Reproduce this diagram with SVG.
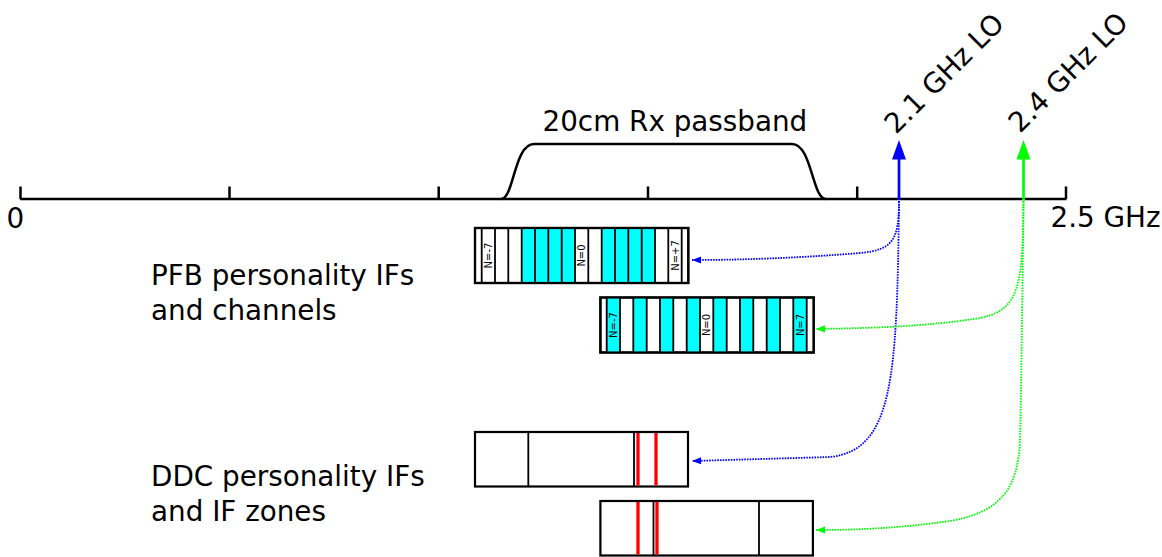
<svg xmlns="http://www.w3.org/2000/svg" width="1162" height="557" viewBox="0 0 1162 557">
<style>
  text { font-family: "DejaVu Sans", "Liberation Sans", sans-serif; fill: #000; }
  .big { font-size: 27.8px; }
  .ch { font-size: 10px; text-anchor: middle; }
  .box { fill: #fff; stroke: #000; stroke-width: 2.2; }
  .div { stroke: #000; stroke-width: 1.8; }
  .cyan { fill: #00ffff; stroke: none; }
  .red { stroke: #ff0000; stroke-width: 3.3; }
  .axis { stroke: #000; stroke-width: 2.5; fill: none; }
  .dotb { fill: none; stroke: #0000ff; stroke-width: 1.8; stroke-dasharray: 1.6 1.1; }
  .dotg { fill: none; stroke: #00ff00; stroke-width: 1.8; stroke-dasharray: 1.6 1.1; }
</style>
<defs>
  <marker id="ab" markerUnits="userSpaceOnUse" viewBox="-10 -5 12 10" markerWidth="12" markerHeight="10" refX="0" refY="0" orient="auto">
    <path d="M-9,-3.6 L0,0 L-9,3.6 Z" fill="#0000ff"/>
  </marker>
  <marker id="ag" markerUnits="userSpaceOnUse" viewBox="-10 -5 12 10" markerWidth="12" markerHeight="10" refX="0" refY="0" orient="auto">
    <path d="M-9,-3.6 L0,0 L-9,3.6 Z" fill="#00ff00"/>
  </marker>
</defs>

<g id="axis">
  <line class="axis" x1="20" y1="199" x2="1066.5" y2="199"/>
  <g class="axis" stroke-width="2">
    <line x1="20.5" y1="186.5" x2="20.5" y2="199"/>
    <line x1="229.5" y1="186.5" x2="229.5" y2="199"/>
    <line x1="438.7" y1="186.5" x2="438.7" y2="199"/>
    <line x1="648" y1="186.5" x2="648" y2="199"/>
    <line x1="857.2" y1="186.5" x2="857.2" y2="199"/>
    <line x1="1066" y1="186.5" x2="1066" y2="199"/>
  </g>
  <text class="big" x="6.5" y="228">0</text>
  <text class="big" x="1050.5" y="227">2.5 GHz</text>
</g>

<g id="passband">
  <path class="axis" d="M501,199 C514,199 514,144 534,144 L792,144 C812,144 812,199 826,199"/>
  <text class="big" x="542.5" y="131">20cm Rx passband</text>
</g>

<g id="lo21">
  <line x1="899" y1="200" x2="899" y2="157" stroke="#0000ff" stroke-width="2.7"/>
  <polygon points="899,140 892,159.5 906,159.5" fill="#0000ff"/>
  <text class="big" transform="translate(896,135) rotate(-45)">2.1 GHz LO</text>
</g>

<g id="lo24">
  <line x1="1023.5" y1="200" x2="1023.5" y2="157" stroke="#00ff00" stroke-width="2.7"/>
  <polygon points="1023.5,140 1016.5,159.5 1030.5,159.5" fill="#00ff00"/>
  <text class="big" transform="translate(1020,134) rotate(-45)">2.4 GHz LO</text>
</g>

<g id="label-pfb">
  <text class="big" x="151" y="284.5">PFB personality IFs</text>
  <text class="big" x="151" y="320">and channels</text>
</g>

<g id="label-ddc">
  <text class="big" x="151" y="486">DDC personality IFs</text>
  <text class="big" x="151" y="521">and IF zones</text>
</g>

<g id="pfb1">
  <rect class="box" x="475" y="228" width="213.3" height="55"/>
  <rect class="cyan" x="521.7" y="228" width="53.3" height="55"/>
  <rect class="cyan" x="601.7" y="228" width="53.3" height="55"/>
  <g class="div">
    <line x1="481.7" y1="228" x2="481.7" y2="283"/>
    <line x1="495.0" y1="228" x2="495.0" y2="283"/>
    <line x1="508.3" y1="228" x2="508.3" y2="283"/>
    <line x1="521.7" y1="228" x2="521.7" y2="283"/>
    <line x1="535.0" y1="228" x2="535.0" y2="283"/>
    <line x1="548.3" y1="228" x2="548.3" y2="283"/>
    <line x1="561.7" y1="228" x2="561.7" y2="283"/>
    <line x1="575.0" y1="228" x2="575.0" y2="283"/>
    <line x1="588.3" y1="228" x2="588.3" y2="283"/>
    <line x1="601.7" y1="228" x2="601.7" y2="283"/>
    <line x1="615.0" y1="228" x2="615.0" y2="283"/>
    <line x1="628.3" y1="228" x2="628.3" y2="283"/>
    <line x1="641.7" y1="228" x2="641.7" y2="283"/>
    <line x1="655.0" y1="228" x2="655.0" y2="283"/>
    <line x1="668.3" y1="228" x2="668.3" y2="283"/>
    <line x1="681.7" y1="228" x2="681.7" y2="283"/>
  </g>
  <rect x="475" y="228" width="213.3" height="55" fill="none" stroke="#000" stroke-width="2.2"/>
  <text class="ch" transform="translate(488.3,255.5) rotate(-90)" dy="0.36em">N=-7</text>
  <text class="ch" transform="translate(581.7,255.5) rotate(-90)" dy="0.36em">N=0</text>
  <text class="ch" transform="translate(675.0,255.5) rotate(-90)" dy="0.36em">N=+7</text>
</g>

<g id="pfb2">
  <rect class="box" x="600.4" y="297.5" width="213.3" height="55"/>
  <rect class="cyan" x="606.7" y="297.5" width="13.33" height="55"/>
  <rect class="cyan" x="633.3" y="297.5" width="13.33" height="55"/>
  <rect class="cyan" x="660.0" y="297.5" width="13.33" height="55"/>
  <rect class="cyan" x="686.7" y="297.5" width="13.33" height="55"/>
  <rect class="cyan" x="713.3" y="297.5" width="13.33" height="55"/>
  <rect class="cyan" x="740.0" y="297.5" width="13.33" height="55"/>
  <rect class="cyan" x="766.7" y="297.5" width="13.33" height="55"/>
  <rect class="cyan" x="793.3" y="297.5" width="13.33" height="55"/>
  <g class="div">
    <line x1="606.7" y1="297.5" x2="606.7" y2="352.5"/>
    <line x1="620.0" y1="297.5" x2="620.0" y2="352.5"/>
    <line x1="633.3" y1="297.5" x2="633.3" y2="352.5"/>
    <line x1="646.7" y1="297.5" x2="646.7" y2="352.5"/>
    <line x1="660.0" y1="297.5" x2="660.0" y2="352.5"/>
    <line x1="673.3" y1="297.5" x2="673.3" y2="352.5"/>
    <line x1="686.7" y1="297.5" x2="686.7" y2="352.5"/>
    <line x1="700.0" y1="297.5" x2="700.0" y2="352.5"/>
    <line x1="713.3" y1="297.5" x2="713.3" y2="352.5"/>
    <line x1="726.7" y1="297.5" x2="726.7" y2="352.5"/>
    <line x1="740.0" y1="297.5" x2="740.0" y2="352.5"/>
    <line x1="753.3" y1="297.5" x2="753.3" y2="352.5"/>
    <line x1="766.7" y1="297.5" x2="766.7" y2="352.5"/>
    <line x1="780.0" y1="297.5" x2="780.0" y2="352.5"/>
    <line x1="793.3" y1="297.5" x2="793.3" y2="352.5"/>
    <line x1="806.7" y1="297.5" x2="806.7" y2="352.5"/>
  </g>
  <rect x="600.4" y="297.5" width="213.3" height="55" fill="none" stroke="#000" stroke-width="2.2"/>
  <text class="ch" transform="translate(613.3,325) rotate(-90)" dy="0.36em">N=-7</text>
  <text class="ch" transform="translate(706.7,325) rotate(-90)" dy="0.36em">N=0</text>
  <text class="ch" transform="translate(800.0,325) rotate(-90)" dy="0.36em">N=7</text>
</g>

<g id="ddc1">
  <rect class="box" x="475" y="432" width="213" height="54.5"/>
  <line class="div" x1="528.3" y1="432" x2="528.3" y2="486.5" stroke-width="2.2"/>
  <line class="div" x1="634" y1="432" x2="634" y2="486.5" stroke-width="2.2"/>
  <line class="red" x1="638" y1="433" x2="638" y2="485.5"/>
  <line class="red" x1="656" y1="433" x2="656" y2="485.5"/>
</g>

<g id="ddc2">
  <rect class="box" x="600.4" y="501" width="212.5" height="54.5"/>
  <line class="red" x1="638" y1="502" x2="638" y2="554.5"/>
  <line class="div" x1="653.5" y1="501" x2="653.5" y2="555.5" stroke-width="2.2"/>
  <line class="red" x1="657" y1="502" x2="657" y2="554.5"/>
  <line class="div" x1="759" y1="501" x2="759" y2="555.5" stroke-width="2.2"/>
</g>

<g id="connectors">
  <path class="dotb" marker-end="url(#ab)" d="M899,201 C899,240 893,250 860,253 C800,258 740,260 692,260"/>
  <path class="dotb" marker-end="url(#ab)" d="M899,201 C897,380 893,450 830,457 L692,461"/>
  <path class="dotg" marker-end="url(#ag)" d="M1023.5,201 C1023,290 1018,310 980,318 C930,326 880,328 816,329"/>
  <path class="dotg" marker-end="url(#ag)" d="M1023.5,201 C1022,330 1021,400 1020,440 C1018,490 1000,512 950,521 C900,528 860,530 816,530"/>
</g>
</svg>
